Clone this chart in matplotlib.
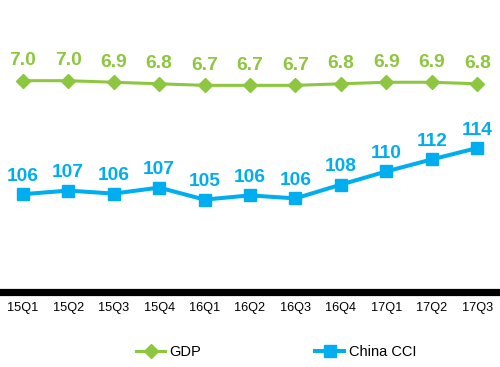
import matplotlib
matplotlib.use("Agg")
import matplotlib.pyplot as plt

plt.rcParams['font.family'] = ['Liberation Sans', 'DejaVu Sans']

quarters = ["15Q1", "15Q2", "15Q3", "15Q4", "16Q1", "16Q2", "16Q3", "16Q4", "17Q1", "17Q2", "17Q3"]
gdp = [7.0, 7.0, 6.9, 6.8, 6.7, 6.7, 6.7, 6.8, 6.9, 6.9, 6.8]
cci = [106.3, 106.9, 106.4, 107.4, 105.4, 106.1, 105.6, 107.9, 110.1, 112.1, 114.0]

green = "#8DC63F"
blue = "#00AEEF"

W, H = 500, 367
fig = plt.figure(figsize=(W / 100, H / 100), dpi=100)
base_px = 292
ax = fig.add_axes([0, 1 - base_px / H, 1, base_px / H])
ax2 = ax.twinx()

x = list(range(len(quarters)))

# CCI on primary axis (6 px per unit)
ax.set_ylim(90, 90 + base_px / 6.0)
# GDP on secondary axis (15.5 px per unit, 7.0 at pixel 80.7)
gdp_bottom = 7.0 - (base_px - 80.7) / 15.5
ax2.set_ylim(gdp_bottom, gdp_bottom + base_px / 15.5)
ax.set_xlim(-0.5, len(quarters) - 0.5)

l2, = ax.plot(x, cci, color=blue, lw=2.9, marker='s', ms=8.2, mew=1,
              mec=blue, mfc=blue, label="China CCI", solid_joinstyle='round')
l1, = ax2.plot(x, gdp, color=green, lw=2.2, marker='D', ms=7.2, mew=1,
               mec=green, mfc=green, label="GDP")

for xi, v in zip(x, cci):
    ax.annotate(f"{v:.0f}", (xi, v), xytext=(0, 9.5), textcoords='offset points',
                ha='center', va='baseline', color=blue, fontsize=13.8, fontweight='bold')
for xi, v in zip(x, gdp):
    ax2.annotate(f"{v:.1f}", (xi, v), xytext=(0, 11.3), textcoords='offset points',
                 ha='center', va='baseline', color=green, fontsize=13.8, fontweight='bold')

for a in (ax, ax2):
    for s in ('top', 'left', 'right'):
        a.spines[s].set_visible(False)
    a.set_yticks([])
ax2.spines['bottom'].set_visible(False)
ax.spines['bottom'].set_linewidth(5.2)
ax.spines['bottom'].set_color('black')
ax.set_xticks(x)
ax.set_xticklabels(quarters, fontsize=9.2)
ax.tick_params(axis='x', length=0, pad=7.5)

leg = fig.legend([l1, l2], ["GDP", "China CCI"], loc='center left',
                 bbox_to_anchor=(136 / W, 1 - 352 / H), ncol=2, frameon=False,
                 fontsize=10.5, handlelength=2.0, handletextpad=0.3,
                 columnspacing=7.8, borderpad=0, borderaxespad=0)

fig.savefig("out.png", dpi=100)
